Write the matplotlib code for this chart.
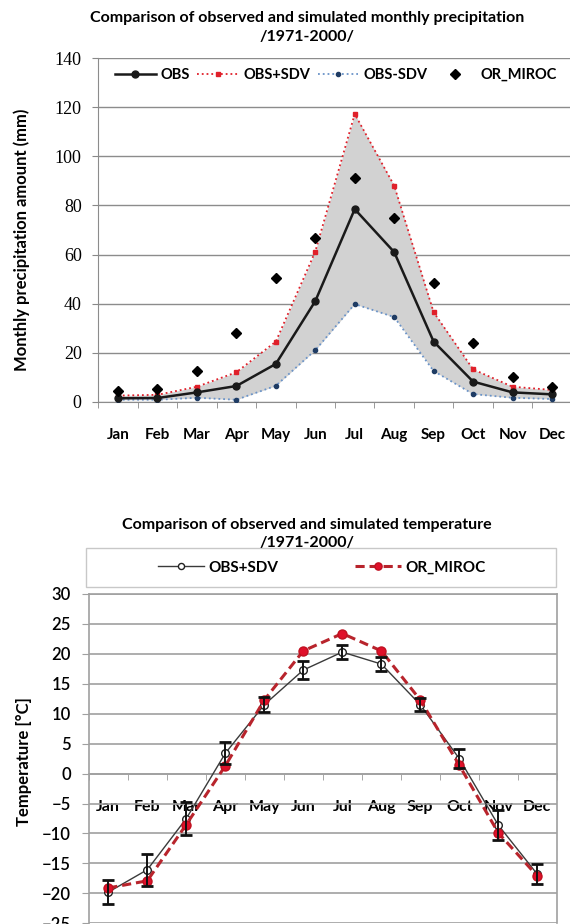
import matplotlib
matplotlib.use("Agg")
import matplotlib.pyplot as plt
from matplotlib.patches import Rectangle
import numpy as np

months = ["Jan", "Feb", "Mar", "Apr", "May", "Jun", "Jul", "Aug", "Sep", "Oct", "Nov", "Dec"]

# precipitation (mm)
obs = [1.4, 1.5, 3.8, 6.4, 15.4, 41.0, 78.5, 61.0, 24.5, 8.2, 3.8, 3.0]
obs_plus = [2.5, 2.8, 6.1, 12.0, 24.5, 61.2, 117.3, 88.1, 36.5, 13.2, 6.1, 4.8]
obs_minus = [0.8, 0.8, 1.6, 0.8, 6.5, 21.0, 39.8, 34.5, 12.5, 3.1, 1.6, 1.1]
miroc_pr = [4.4, 5.2, 12.7, 27.9, 50.4, 66.8, 91.4, 75.0, 48.3, 24.1, 9.9, 5.9]

# temperature (degC)
obs_t = [-19.8, -16.05, -7.5, 3.4, 11.5, 17.3, 20.3, 18.3, 11.5, 2.5, -8.6, -16.8]
obs_t_err = [2.0, 2.65, 2.8, 1.8, 1.25, 1.45, 1.2, 1.15, 1.1, 1.6, 2.45, 1.65]
miroc_t = [-19.1, -17.9, -8.5, 1.3, 12.3, 20.5, 23.4, 20.5, 12.3, 1.4, -9.9, -17.1]

plt.rcParams["font.family"] = ["Lato", "DejaVu Sans"]

W, H = 570, 924
fig = plt.figure(figsize=(W / 100, H / 100), dpi=100)
x = np.arange(len(months))


def fx(px):
    return px / W


def fy(py):
    return 1 - py / H


# ---------- precipitation ----------
ax1 = fig.add_axes([fx(98.3), fy(401.7), fx(571.7 - 98.3), (401.7 - 58.3) / H])
ax1.fill_between(x, obs_minus, obs_plus, color="#d2d2d2", lw=0, zorder=1)
ax1.plot(x, obs_plus, ls=":", color="#e0202a", lw=1.3, marker="s", ms=2.5,
         mfc="#e0202a", mec="#e0202a", label="OBS+SDV", zorder=3)
ax1.plot(x, obs_minus, ls=":", color="#6a93c8", lw=1.3, marker="o", ms=3,
         mfc="#1f3c64", mec="#1f3c64", label="OBS-SDV", zorder=3)
ax1.plot(x, obs, ls="-", color="#1a1a1a", lw=1.8, marker="o", ms=5,
         mfc="#1a1a1a", mec="#1a1a1a", label="OBS", zorder=4)
ax1.plot(x, miroc_pr, ls="none", color="black", marker="D", ms=5,
         label="OR_MIROC", zorder=5)

ax1.set_xlim(-0.5, 11.5)
ax1.set_ylim(0, 140)
ax1.set_yticks(np.arange(0, 141, 20))
ax1.set_xticks(x)
ax1.set_xticklabels(months, fontsize=11, fontweight="bold")
ax1.set_xticks(np.arange(-0.5, 12, 1), minor=True)
ax1.tick_params(axis="x", which="major", length=0, pad=19)
ax1.tick_params(axis="x", which="minor", length=4, color="#888888", direction="out")
ax1.tick_params(axis="y", length=4, color="#888888", pad=8)
for lbl in ax1.get_yticklabels():
    lbl.set_family("Liberation Serif")
    lbl.set_fontsize(13)
ax1.grid(axis="y", color="#8c8c8c", lw=1)
ax1.set_axisbelow(True)
for s in ["top", "right"]:
    ax1.spines[s].set_visible(False)
for s in ["left", "bottom"]:
    ax1.spines[s].set_color("#8c8c8c")

h, l = ax1.get_legend_handles_labels()
order = [2, 0, 1, 3]
ax1.legend([h[i] for i in order], [l[i] for i in order], loc="center",
           bbox_to_anchor=(fx(336 - 98.3) / fx(571.7 - 98.3), 0.951), ncol=4,
           frameon=False, handlelength=2.8, columnspacing=0.5, handletextpad=0.35,
           prop={"weight": "bold", "size": 10.5})

fig.text(fx(307), fy(27.5),
         "Comparison of observed and simulated monthly precipitation\n/1971-2000/",
         ha="center", va="center", fontsize=11.5, fontweight="bold", linespacing=1.45)
fig.text(fx(22), fy(240), "Monthly precipitation amount (mm)", rotation=90,
         ha="center", va="center", fontsize=12, fontweight="bold")

# ---------- temperature ----------
ax2 = fig.add_axes([fx(88.8), fy(923.3), fx(556.8 - 88.8), (923.3 - 594) / H])
ax2.spines["bottom"].set_position(("data", 0))
for s in ax2.spines.values():
    s.set_color("#a0a0a0")
    s.set_linewidth(1.2)

ax2.plot(x, obs_t, ls="-", color="#3a3a3a", lw=1, marker="o", ms=5.5,
         mfc="white", mec="#222222", mew=1, label="OBS+SDV", zorder=3)
ax2.plot(x, miroc_t, ls=(0, (3, 1.6)), color="#b8242c", lw=2.2, marker="o", ms=6.5,
         mfc="#e0102a", mec="#c01020", label="OR_MIROC", zorder=4)
ax2.errorbar(x, obs_t, yerr=obs_t_err, fmt="none", ecolor="#111111",
             elinewidth=1.4, capsize=4, capthick=2, zorder=5)

ax2.set_xlim(-0.5, 11.5)
ax2.set_ylim(-25, 30)
ax2.set_yticks(np.arange(-25, 31, 5))
ax2.set_xticks(x)
ax2.set_xticklabels(months, fontsize=11.5, fontweight="bold")
ax2.set_xticks(np.arange(-0.5, 12, 1), minor=True)
ax2.tick_params(axis="x", which="major", length=0, pad=19)
ax2.tick_params(axis="x", which="minor", length=4, color="#999999", direction="out")
ax2.tick_params(axis="y", length=5, color="#a0a0a0", pad=8)
for lbl in ax2.get_yticklabels():
    lbl.set_fontsize(12)
    lbl.set_fontweight("semibold")
ax2.grid(axis="y", color="#a0a0a0", lw=1.2)
ax2.set_axisbelow(True)

fig.patches.append(Rectangle((fx(86), fy(587)), fx(556 - 86), 39 / H,
                             transform=fig.transFigure, fill=False,
                             edgecolor="#c8c8c8", lw=1))
lh, ll = ax2.get_legend_handles_labels()
fig.legend(lh, ll, loc="center", bbox_to_anchor=(fx(322), fy(567.5)), ncol=2,
           frameon=False, handlelength=3.0, columnspacing=5.0, handletextpad=0.3,
           markerscale=0.8, prop={"weight": "bold", "size": 11})

fig.text(fx(307), fy(534),
         "Comparison of observed and simulated temperature\n/1971-2000/",
         ha="center", va="center", fontsize=11.5, fontweight="bold", linespacing=1.45)
fig.text(fx(24), fy(762), "Temperature [\u00b0C]", rotation=90,
         ha="center", va="center", fontsize=12, fontweight="bold")

fig.savefig("out.png", dpi=100)
